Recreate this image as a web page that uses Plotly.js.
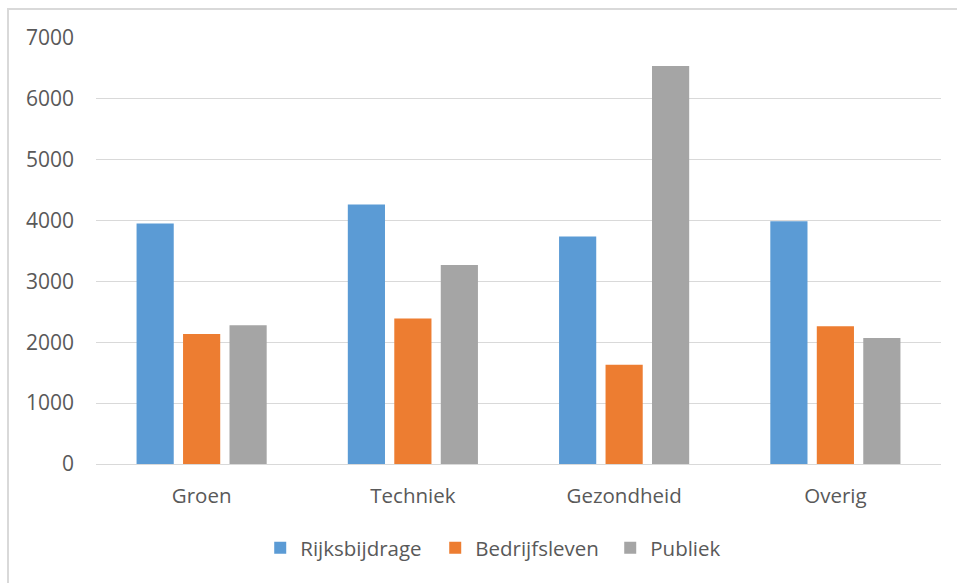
<!DOCTYPE html>
<html>
<head>
<meta charset="utf-8">
<script src="https://cdn.plot.ly/plotly-3.0.1.min.js"></script>
<style>
  html, body { margin: 0; padding: 0; background: #ffffff; }
  #frame { position: absolute; left: 0; top: 0; width: 957px; height: 583px; }
  #border { position: absolute; left: 7px; top: 8px; width: 960px; height: 600px;
            border-left: 2px solid #d9d9d9; border-top: 2px solid #d9d9d9; pointer-events: none; }
  #chart { position: absolute; left: 0; top: 0; width: 957px; height: 583px; }
</style>
</head>
<body>
<div id="frame">
  <div id="chart"></div>
  <div id="border"></div>
</div>
<script>
const categories = ["Groen", "Techniek", "Gezondheid", "Overig"];
const seriesNames = ["Rijksbijdrage", "Bedrijfsleven", "Publiek"];
const rijksbijdrage = [3950, 4265, 3740, 3990];
const bedrijfsleven = [2135, 2390, 1630, 2265];
const publiek = [2280, 3270, 6540, 2070];
const colors = ["#5B9BD5", "#ED7D31", "#A5A5A5"];
const yTicks = [0, 1000, 2000, 3000, 4000, 5000, 6000, 7000];

const seriesValues = [rijksbijdrage, bedrijfsleven, publiek];
const traces = seriesValues.map((vals, i) => ({
  type: "bar",
  name: seriesNames[i],
  x: categories,
  y: vals,
  marker: { color: colors[i], line: { width: 0 } },
  hoverinfo: "x+y+name"
}));

const family = "'Open Sans', 'Segoe UI', sans-serif";
const textColor = "#595959";

const layout = {
  width: 957,
  height: 583,
  margin: { l: 96, r: 16, t: 38, b: 119, pad: 0 },
  paper_bgcolor: "#ffffff",
  plot_bgcolor: "#ffffff",
  font: { family: family, size: 20, color: textColor },
  barmode: "group",
  bargap: 0.34,
  bargroupgap: 0.2,
  showlegend: true,
  legend: {
    orientation: "h",
    x: 0.505,
    xanchor: "center",
    y: -0.197,
    yanchor: "middle",
    font: { family: family, size: 20.5, color: textColor },
    itemwidth: 30,
    entrywidth: 130,
    traceorder: "normal"
  },
  xaxis: {
    type: "category",
    showgrid: false,
    showline: false,
    zeroline: false,
    ticks: "",
    ticklabelstandoff: 17,
    tickfont: { family: family, size: 20.5, color: textColor }
  },
  yaxis: {
    range: [0, 7000],
    tickvals: yTicks,
    ticktext: yTicks.map(String),
    showgrid: true,
    gridcolor: "#d9d9d9",
    gridwidth: 1,
    zeroline: true,
    zerolinecolor: "#d9d9d9",
    zerolinewidth: 1,
    showline: false,
    ticks: "",
    ticklabelstandoff: 21,
    tickfont: { family: family, size: 21, color: textColor }
  }
};

Plotly.newPlot("chart", traces, layout, { displayModeBar: false, staticPlot: true });
</script>
</body>
</html>
